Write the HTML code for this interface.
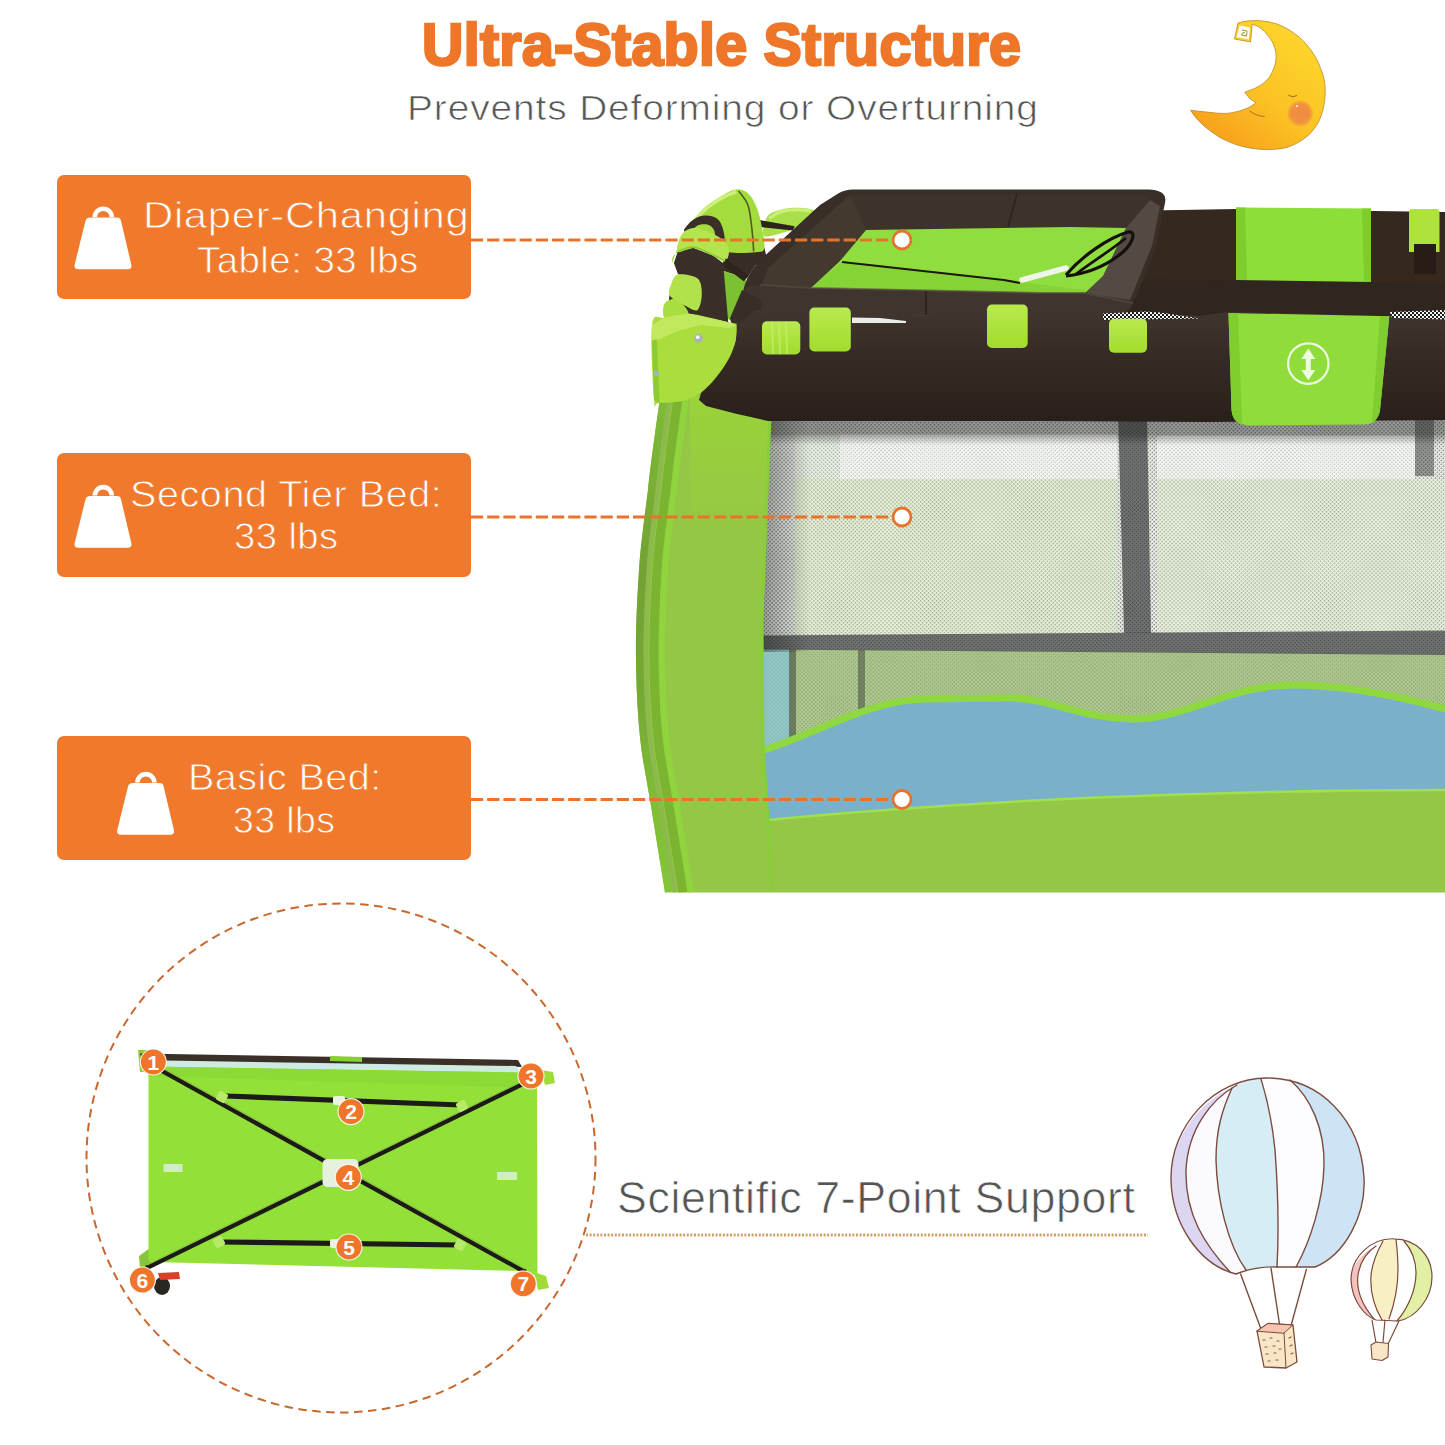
<!DOCTYPE html>
<html>
<head>
<meta charset="utf-8">
<title>Ultra-Stable Structure</title>
<style>
html,body{margin:0;padding:0;background:#fff;}
body{width:1445px;height:1445px;position:relative;overflow:hidden;font-family:"Liberation Sans",sans-serif;}
.abs{position:absolute;}
.tx{white-space:nowrap;transform-origin:0 0;}
.ttl{color:#ee7629;font-weight:bold;}
.sub{color:#555;-webkit-text-stroke:0.7px #fff;}
.box{left:57px;width:414px;height:124px;background:#f0792b;border-radius:7px;}
.bt{color:#fff;-webkit-text-stroke:0.8px #f0792b;}
svg{position:absolute;left:0;top:0;}
</style>
</head>
<body>
<!-- PRODUCT -->
<svg id="product" width="1445" height="1445" viewBox="0 0 1445 1445">
<!--PRODUCT-START-->
<defs>
<pattern id="mesh" width="2.8" height="2.8" patternUnits="userSpaceOnUse" patternTransform="rotate(45)">
<rect width="2.8" height="2.8" fill="#f1f5ee"/>
<rect width="1.4" height="1.4" fill="#343834" opacity="0.72"/>
</pattern>
<pattern id="mesh2" width="4" height="4" patternUnits="userSpaceOnUse"><rect width="4" height="4" fill="#f4f6f4"/><rect width="2" height="2" fill="#1e1e1e"/><rect x="2" y="2" width="2" height="2" fill="#1e1e1e"/></pattern>
<linearGradient id="gBody" gradientUnits="userSpaceOnUse" x1="636" y1="0" x2="770" y2="0">
<stop offset="0" stop-color="#73a233"/><stop offset="0.07" stop-color="#8dba4c"/><stop offset="0.13" stop-color="#7ab22e"/><stop offset="0.2" stop-color="#90d23c"/><stop offset="0.3" stop-color="#93c342"/><stop offset="1" stop-color="#95c645"/>
</linearGradient>
<linearGradient id="gRail" x1="0" y1="0" x2="0" y2="1">
<stop offset="0" stop-color="#41362f"/><stop offset="0.35" stop-color="#372c26"/><stop offset="0.7" stop-color="#2f2620"/><stop offset="1" stop-color="#29201b"/>
</linearGradient>
<linearGradient id="gClip" x1="0" y1="0" x2="0" y2="1">
<stop offset="0" stop-color="#b9ea50"/><stop offset="1" stop-color="#a2dc2c"/>
</linearGradient>
<linearGradient id="gMeshShade" x1="0" y1="0" x2="0" y2="1">
<stop offset="0" stop-color="#000" stop-opacity="0.6"/><stop offset="1" stop-color="#000" stop-opacity="0"/>
</linearGradient>
<linearGradient id="gEdge" gradientUnits="userSpaceOnUse" x1="0" y1="400" x2="0" y2="892"><stop offset="0" stop-color="#7dbb36"/><stop offset="0.35" stop-color="#73a233"/><stop offset="0.6" stop-color="#76a835"/><stop offset="0.85" stop-color="#80c036"/><stop offset="1" stop-color="#84c438"/></linearGradient>
<linearGradient id="gTopL" gradientUnits="userSpaceOnUse" x1="0" y1="400" x2="0" y2="540"><stop offset="0" stop-color="#9bd636" stop-opacity="0.75"/><stop offset="1" stop-color="#9bd636" stop-opacity="0"/></linearGradient>
<linearGradient id="gMeshShadeL" x1="0" y1="0" x2="1" y2="0">
<stop offset="0" stop-color="#000" stop-opacity="0.36"/><stop offset="1" stop-color="#000" stop-opacity="0"/>
</linearGradient>
<clipPath id="meshClip"><path d="M770,414 L1445,412 L1445,714 C1390,700 1330,692 1280,692 C1210,692 1170,722 1113,720 C1060,718 1040,703 1002,703 L930,703 C880,703 820,735 765,753 L763,740 L762,620 Z"/></clipPath>
<clipPath id="bodyClip"><path d="M660,398 C654,440 650,470 648,490 C644,520 641,545 639.7,560 C637,600 635.5,630 636,660 C636.5,700 639,735 643,760 L650,800 L665,892.5 L1445,892.5 L1445,410 L700,392 Z"/></clipPath>
<path id="edgeP" d="M660,398 C654,440 650,470 648,490 C644,520 641,545 639.7,560 C637,600 635.5,630 636,660 C636.5,700 639,735 643,760 L650,800 L665,892.5"/>
</defs>

<!-- main green body -->
<g clip-path="url(#bodyClip)">
<rect x="630" y="390" width="820" height="505" fill="#94c745"/>
<!-- left panel edge shading following curve -->
<use href="#edgeP" fill="none" stroke="url(#gEdge)" stroke-width="16"/>
<use href="#edgeP" x="10" fill="none" stroke="#8cba4c" stroke-width="5"/>
<use href="#edgeP" x="18" fill="none" stroke="#7ab430" stroke-width="9"/>
<use href="#edgeP" x="26" fill="none" stroke="#90d43e" stroke-width="6"/>
<rect x="690" y="395" width="85" height="150" fill="url(#gTopL)"/>
</g>

<!-- mesh window -->
<g clip-path="url(#meshClip)">
<rect x="755" y="410" width="695" height="350" fill="url(#mesh)"/>
<!-- faint light patches -->
<rect x="840" y="434" width="277" height="45" fill="#fff" opacity="0.5"/>
<rect x="795" y="434" width="45" height="45" fill="#e6f0dc" opacity="0.35"/>
<rect x="1157" y="436" width="258" height="43" fill="#fff" opacity="0.5"/>
<rect x="795" y="479" width="322" height="155" fill="#d9eebc" opacity="0.4"/>
<rect x="1157" y="479" width="291" height="154" fill="#e0f1c8" opacity="0.4"/>
<!-- greenish lower part seen through mesh -->
<path d="M755,649 L1445,654.5 L1445,764 L755,764 Z" fill="#8fb562" opacity="0.66"/>
<rect x="762" y="649.5" width="28" height="115" fill="#7fc4ea" opacity="0.6"/>
<rect x="789" y="649.5" width="7" height="115" fill="#333" opacity="0.5"/>
<rect x="858" y="650" width="7" height="84" fill="#333" opacity="0.45"/>
<!-- bars -->
<path d="M755,635.5 L1445,630.5 L1445,655 L755,649.5 Z" fill="#2c2f31" opacity="0.64"/>
<path d="M1118,410 L1147,410 L1151,633 L1124,633 Z" fill="#2c2f31" opacity="0.64"/>
<rect x="1415" y="410" width="19" height="66" fill="#2c2f31" opacity="0.45"/>
<!-- shading -->
<rect x="755" y="412" width="695" height="23" fill="#1c1c1c" opacity="0.42"/>
<rect x="755" y="435" width="695" height="10" fill="url(#gMeshShade)" opacity="0.5"/>
<rect x="760" y="412" width="50" height="240" fill="url(#gMeshShadeL)"/>
</g>

<!-- blue band -->
<path d="M765,753 C820,735 870,703 925,702 L1010,701 C1050,701 1075,720 1130,722 C1185,723 1225,689 1292,688 C1340,688 1395,698 1445,712 L1445,790 C1300,790 1180,794 1085,798 C960,804 850,812 768,820 Z" fill="#7ab0c9"/>
<!-- green piping over the blue -->
<path d="M764,750 C820,732 870,700 925,699 L1010,698 C1050,698 1075,717 1130,719 C1185,720 1225,686 1292,685 C1340,685 1395,695 1445,709" fill="none" stroke="#8fd840" stroke-width="7"/>
<path d="M768,820 C850,812 960,804 1085,798 C1180,794 1300,790 1445,790" fill="none" stroke="#9fe050" stroke-width="2.5"/>
<!-- mesh left edge piping -->
<path d="M770,416 L762,620 L763,745 L768,822 L772,892" stroke="#86cf38" stroke-width="3" fill="none"/>
<!-- ===== upper-left arms (behind) ===== -->
<path d="M763.4,234.9 C762.1,231.8 764.4,220.7 767.3,216.5 C770.2,212.3 775.6,211.1 780.8,209.7 C786.0,208.2 792.8,207.6 798.3,207.8 C803.8,208.0 812.8,208.9 814.1,210.7 C815.4,212.5 809.3,215.8 806.0,218.8 C802.7,221.8 799.6,225.8 794.4,228.5 C789.2,231.2 780.2,233.8 775.0,234.9 C769.8,236.0 764.7,238.0 763.4,234.9 Z" fill="#a9e04a"/>
<path d="M769.2,218.4 C771.1,217.3 775.9,213.1 780.8,211.7 C785.6,210.2 793.3,209.8 798.3,209.7 C803.3,209.6 808.8,210.9 810.9,211.1" fill="none" stroke="#cdf07c" stroke-width="3"/>
<path d="M755.6,219.4 L794.8,226.2 L792.8,230.5 L755.6,226.6 Z" fill="#2e241c"/>
<path d="M723.7,247.5 L764.4,247.5 L767.3,261.1 L755.6,264.9 L746.9,278.5 L722.7,270.8 Z" fill="#382d26"/>
<path d="M722.7,270.8 L746.3,278.5 L744.4,301.8 L748.3,321.5 L738.6,325.4 L720.8,314.4 Z" fill="#7cc230"/>
<path d="M672.3,263.0 C672.3,262.2 675.5,253.3 678.1,247.5 C680.7,241.7 683.6,234.5 687.8,228.1 C692.0,221.7 697.5,214.3 703.3,208.8 C709.1,203.3 717.2,198.4 722.7,195.2 C728.2,192.0 732.1,189.7 736.3,189.4 C740.5,189.1 744.7,190.7 747.9,193.3 C751.1,195.9 753.5,200.4 755.6,204.9 C757.7,209.4 759.0,213.3 760.5,220.4 C762.0,227.5 765.2,242.2 764.4,247.5 C763.6,252.8 761.6,251.5 755.6,252.3 C749.6,253.1 734.3,253.4 728.5,252.3 C722.7,251.2 729.2,245.6 720.8,245.6 C712.4,245.6 686.2,249.4 678.1,252.3 C670.0,255.2 672.3,263.8 672.3,263.0 Z" fill="#a5dc3d"/>
<path d="M678.1,249.4 C679.7,246.2 683.6,236.5 687.8,230.1 C692.0,223.7 697.5,216.5 703.3,211.1 C709.1,205.7 717.2,200.7 722.7,197.5 C728.2,194.3 734.0,192.7 736.3,191.7" fill="none" stroke="#d0f284" stroke-width="3.5" opacity="0.9"/>
<path d="M738.6,190.9 C740.1,193.2 745.7,198.7 747.9,204.9 C750.1,211.1 750.8,220.3 751.8,228.1 C752.8,235.8 753.4,247.5 753.7,251.4" fill="none" stroke="#3a3a22" stroke-width="1.6" opacity="0.8"/>
<path d="M683.9,230.1 C684.5,227.9 690.0,221.8 693.6,219.4 C697.2,217.0 701.4,215.7 705.3,215.5 C709.2,215.3 714.0,216.3 716.9,218.4 C719.8,220.5 721.4,223.9 722.7,228.1 C724.0,232.3 725.6,241.0 724.6,243.6 C723.6,246.2 718.7,245.8 716.9,243.6 C715.1,241.3 715.6,233.3 714.0,230.1 C712.4,226.9 710.0,225.3 707.2,224.6 C704.5,223.8 700.4,224.3 697.5,225.6 C694.6,226.9 692.4,231.7 690.1,232.4 C687.8,233.2 683.3,232.3 683.9,230.1 Z" fill="#3a2f28"/>
<path d="M677.7,251.8 L693.6,247.9 L713.0,255.6 L723.1,263.0 L728.5,325.0 L697.5,325.0 L697.5,278.5 L678.1,274.6 L673.9,263.0 Z" fill="#3a2f28"/>
<path d="M669.4,295.0 L685.9,305.6 L697.5,309.5 L702.3,315.3 L685.9,315.3 L668.4,305.6 Z" fill="#3a2f28"/>
<path d="M682.0,233.9 C685.3,229.9 690.7,227.1 697.5,228.1 C704.3,229.1 717.5,235.9 722.7,239.8 C727.9,243.7 728.6,247.8 728.9,251.4 C729.2,255.0 727.2,260.8 724.6,261.5 C722.0,262.2 718.2,257.9 713.0,255.6 C707.8,253.3 699.5,248.5 693.6,247.9 C687.7,247.3 679.6,254.1 677.7,251.8 C675.8,249.5 678.7,237.9 682.0,233.9 Z" fill="#b4e44e"/>
<path d="M678.1,251.0 C680.7,250.3 687.8,246.4 693.6,247.1 C699.4,247.8 707.8,252.6 713.0,254.9 C718.2,257.2 722.7,259.7 724.6,260.7" fill="none" stroke="#8cc82e" stroke-width="1.6"/>
<path d="M678.1,274.6 C682.5,273.6 693.5,275.3 697.5,278.5 C701.5,281.7 701.8,288.8 701.8,294.0 C701.8,299.2 700.1,307.9 697.5,309.9 C694.9,311.9 690.5,308.3 685.9,306.0 C681.3,303.7 672.5,299.5 670.0,295.9 C667.5,292.3 669.9,287.9 671.2,284.3 C672.6,280.8 673.7,275.6 678.1,274.6 Z" fill="#b2e24a"/>
<path d="M664.2,304.1 C665.9,300.7 672.2,297.8 676.2,299.4 C680.2,301.0 689.9,310.4 688.2,313.8 C686.5,317.2 670.1,321.2 666.1,319.6 C662.1,318.0 662.5,307.5 664.2,304.1 Z" fill="#a9de40"/>
<path d="M725.6,258.2 L747.9,275.6 L744.0,281.4 L723.7,265.9 Z" fill="#2e241c"/>

<!-- ===== back rail ===== -->
<path d="M1150,210.5 L1236,209 L1445,212 L1445,319 L1110,319 L1110,300 Z" fill="#35291f"/>
<path d="M1146,279 L1445,284 L1445,319 L1110,319 L1128,300 Z" fill="#2f2620"/>
<!-- green patch on back rail -->
<path d="M1236,207.5 L1371,208.5 L1371,282 L1236,280 Z" fill="#8cdf38"/>
<path d="M1236,207.5 L1245,207.5 L1247,280 L1236,280 Z M1362,208.5 L1371,208.5 L1371,282 L1364,282 Z" fill="#7ccd2d"/>
<!-- back clip + strap -->
<path d="M1409,212 Q1409,209 1412,209 L1436,209 Q1439.5,209 1439.5,212 L1439.5,252 L1435,252 L1435,244 L1414,244 L1414,252 L1409,252 Z" fill="#aee23c"/>
<rect x="1414" y="244" width="22" height="30" fill="#271d16"/>

<!-- ===== changing tray ===== -->
<path d="M839,193 Q845,189.5 853,189.5 L1148,189.5 Q1168,190 1165,203 L1156,246 L1146,273 L1133,303 Q1130,312 1122,313 L1040,318 L900,315 L754,312 Q743,306 743,292 Q745,278 758,262 L820,205 Z" fill="#3a2f28"/>
<!-- inner walls -->
<path d="M850,195 L1140,195 Q1152,196 1150,206 L1126,228 L1070,227 L866,230 L840,261 L830,273 L811,288 L780,296 L760,290 L768,268 Z" fill="#43392f"/>
<path d="M850,195 L1140,195 Q1152,196 1150,206 L1126,228 L1070,227 L866,230 Z" fill="#3d332b"/>
<path d="M1017,194 L1008,227" stroke="#2a211b" stroke-width="1.2"/>
<!-- right inner wall greyer -->
<path d="M1150,200 L1160,206 L1152,246 L1130,300 L1085,293 L1103,276 L1126,228 Z" fill="#524a43"/>
<!-- green floor -->
<path d="M866,230 L1070,227 L1126,228 L1103,276 L1085,293 L1040,293 L811,288 L840,261 Z" fill="#8fdd3e"/>
<path d="M842,262 L1004,280 L1085,290 L1085,293 L1040,293 L811,288 Z" fill="#86d336"/>
<!-- tray front wall -->
<path d="M744,292 Q748,284 760,285 L811,288 L1040,293 L1085,293 L1133,303 Q1130,312 1122,313 L1040,318 L900,315 L754,312 Q743,306 744,292 Z" fill="#3f352e"/>
<path d="M760,285 L811,288 L1040,293 L1085,293 L1133,303" fill="none" stroke="#574c43" stroke-width="2" opacity="0.7"/>
<path d="M926,291 L926,315" stroke="#241c17" stroke-width="1.2"/>
<!-- zip cord -->
<path d="M842,262 L1004,280 L1020,283" stroke="#1d1610" stroke-width="2" fill="none"/>
<path d="M1022,280 L1066,268" stroke="#eef5ea" stroke-width="5.5" stroke-linecap="round" fill="none"/>
<path d="M1066,275 C1082,256 1108,238 1128,232 C1138,231 1132,246 1118,256 C1102,268 1084,274 1066,276" stroke="#17110b" stroke-width="3.2" fill="none"/>
<path d="M1076,274 C1092,262 1114,248 1126,238" stroke="#17110b" stroke-width="2.8" fill="none"/>

<!-- ===== front rail ===== -->
<path d="M730,318 L742,290 L762,300 L760,330 L736,342 Z" fill="#392e27"/>
<path d="M740,323 L756,310 L852,313 L906,315 L1040,316 L1110,311 L1200,316 L1228,312 L1389,316 L1445,317 L1445,420 L1205,422 L1040,421 L808,421 L768,421 L735,413.5 L706,406 L699,400 L701,393 L720,371 L736,340 Z" fill="url(#gRail)"/>
<!-- front pocket -->
<path d="M1228.5,313 L1389.3,316.3 L1380,410 Q1378,424 1364,424.5 L1250,425.5 Q1233,425 1231.5,410 Z" fill="#8fdc3a"/>
<path d="M1228.5,313 L1238,313.2 L1242,424 Q1233,423 1231.5,410 Z" fill="#7fcd2f"/>
<path d="M1380,316.2 L1389.3,316.3 L1380,410 Q1379,418 1372,422 Z" fill="#7fcd2f"/>
<circle cx="1308.3" cy="363.6" r="20.2" fill="none" stroke="#eefbe0" stroke-width="2.2"/>
<path d="M1308.3,348.5 L1315.3,359 L1310.8,359 L1310.8,370 L1315.3,370 L1308.3,380.3 L1301.3,370 L1305.8,370 L1305.8,359 L1301.3,359 Z" fill="#eefbe0"/>

<!-- mesh gap between rails -->
<path d="M1103,313.5 L1146,311.5 L1160,312.5 L1200,318.5 L1103,320 Z" fill="url(#mesh2)"/>
<path d="M1390,312 L1445,310 L1445,319.5 L1392,318 Z" fill="url(#mesh2)"/>
<path d="M852,317.5 L880,318 L906,321 L906,323 L852,323 Z" fill="#e9ece9"/>

<!-- clips -->
<rect x="762" y="321.2" width="38.3" height="33.2" rx="5" fill="url(#gClip)"/>
<path d="M772,322 L773,354 M779,322 L780,354 M786,322 L787,354" stroke="#c7f070" stroke-width="2" opacity="0.7"/>
<rect x="809.4" y="307.5" width="41.4" height="44" rx="5" fill="url(#gClip)"/>
<rect x="987" y="304.6" width="40.7" height="43.4" rx="5" fill="url(#gClip)"/>
<rect x="1109" y="318.7" width="38" height="34" rx="5" fill="url(#gClip)"/>

<!-- ===== corner piece ===== -->
<path d="M652.0,325.0 C653.8,311.2 658.6,319.5 664.6,317.6 C670.6,315.7 676.5,312.5 687.8,313.4 C699.1,314.3 724.3,321.1 732.4,323.1 C740.5,325.1 736.2,321.8 736.6,325.4 C737.0,328.9 736.7,337.7 734.7,344.4 C732.7,351.1 729.5,358.3 724.6,365.7 C719.7,373.1 712.1,383.1 705.3,388.9 C698.5,394.7 691.6,398.3 683.9,400.6 C676.1,402.9 663.8,402.9 658.8,402.9 C653.8,402.9 655.2,413.6 654.1,400.6 C653.0,387.6 650.2,338.8 652.0,325.0 Z" fill="#aade3c"/>
<path d="M652.0,325.0 L664.6,317.6 L687.8,313.4 L732.4,323.1 L736.6,325.4 L728.5,327.9 L701.4,325.0 L678.1,330.8 L656.8,340.5 L652.0,344.4 Z" fill="#c2e95e"/>
<path d="M652.0,340.5 L656.8,339.0 L659.7,402.1 L658.8,402.9 L654.1,400.6 Z" fill="#8fcb30"/>
<circle cx="698.5" cy="338.2" r="4.4" fill="#a9b2b6"/><circle cx="697.7" cy="337.2" r="1.9" fill="#f4f6f7"/>
<circle cx="656.4" cy="373.4" r="2.7" fill="#a9b2b6"/>
<!--PRODUCT-END-->
<!--DIAGRAM-START-->
<!-- ===== 7-point diagram ===== -->
<g id="diagram">
<!-- feet -->
<path d="M541,1070 L553,1072 L555,1083 L545,1085 Z" fill="#9fdc3a"/>
<path d="M534,1272 L546,1276 L549,1288 L538,1290 Z" fill="#9fdc3a"/>
<path d="M138,1050 L150,1050 L152,1072 L140,1072 Z" fill="#8ccc34"/>
<path d="M139,1256 L150,1248 L152,1268 L140,1270 Z" fill="#86c63a"/>
<!-- wheel + red near 6 -->
<ellipse cx="162" cy="1286" rx="8" ry="9" fill="#2a2622"/>
<path d="M158,1273 L179,1272 L180,1279 L160,1280 Z" fill="#d9402a"/>
<path d="M171,1058 L179,1058 L179,1065 L172,1065 Z" fill="#d9402a"/>
<!-- top dark bar + light strip -->
<path d="M140,1053.5 L518,1060 L522,1067 L142,1061 Z" fill="#3a3028"/>
<path d="M330,1056 L362,1057 L362,1062 L330,1061 Z" fill="#86d030"/>
<path d="M165,1060.5 L516,1066 L522,1073.5 L150,1067.5 Z" fill="#cdebe0"/>
<!-- green sheet -->
<path d="M148.5,1066.5 L520,1072.5 L537,1078 L537.5,1276 L520,1271 L152,1262 Q148,1262 148.5,1258 Z" fill="#93e038"/>
<path d="M148.5,1066.5 L520,1072.5 L537,1078 L537,1088 L148.5,1076 Z" fill="#8ad836" opacity="0.8"/>
<!-- bars -->
<g stroke="#1d1b17" stroke-width="5.2" stroke-linecap="round" fill="none">
<path d="M163,1071 L524,1271"/>
<path d="M524,1083 L148,1267"/>
<path d="M226,1096 L461,1105"/>
<path d="M221,1242 L460,1245"/>
</g>
<g stroke="#9fe04a" stroke-width="1.2" fill="none" opacity="0.9">
<path d="M164,1069 L525,1269"/>
<path d="M523,1081 L147,1265"/>
</g>
<!-- joints -->
<g fill="#b7ea6a">
<rect x="217" y="1092" width="10" height="10" rx="2" transform="rotate(28 222 1097)"/>
<rect x="457" y="1101" width="10" height="10" rx="2" transform="rotate(-28 462 1106)"/>
<rect x="214" y="1237" width="10" height="10" rx="2" transform="rotate(-28 219 1242)"/>
<rect x="455" y="1240" width="10" height="10" rx="2" transform="rotate(28 460 1245)"/>
</g>
<!-- hub -->
<rect x="322.5" y="1159" width="36" height="28" rx="5" fill="#e4f1dc"/>
<rect x="333" y="1096" width="12" height="9" rx="2" fill="#e8f4e0"/>
<rect x="330" y="1239" width="12" height="9" rx="2" fill="#e8f4e0"/>
<!-- labels -->
<rect x="163.5" y="1164" width="19" height="8" fill="#cfeec0"/>
<rect x="497" y="1172" width="20" height="8" fill="#cfeec0"/>
<!-- numbered circles -->
<g font-family="Liberation Sans, sans-serif" font-weight="bold" font-size="21" fill="#fff" text-anchor="middle" stroke-linejoin="round">
<g fill="#ee7529" stroke="#fff" stroke-width="1.2" stroke-opacity="0.85">
<circle cx="153.3" cy="1062" r="13"/>
<circle cx="351" cy="1111.6" r="13"/>
<circle cx="531" cy="1076" r="13"/>
<circle cx="348.3" cy="1177.3" r="13"/>
<circle cx="349" cy="1247" r="13"/>
<circle cx="142.4" cy="1280" r="13"/>
<circle cx="523.3" cy="1283.8" r="13"/>
</g>
<text x="153.3" y="1069.5">1</text>
<text x="351" y="1119.1">2</text>
<text x="531" y="1083.5">3</text>
<text x="348.3" y="1184.8">4</text>
<text x="349" y="1254.5">5</text>
<text x="142.4" y="1287.5">6</text>
<text x="523.3" y="1291.3">7</text>
</g>
</g>
<!--DIAGRAM-END-->
<!--DECO-START-->
<!-- ===== moon ===== -->
<defs>
<linearGradient id="gMoon" gradientUnits="userSpaceOnUse" x1="1300" y1="30" x2="1215" y2="135">
<stop offset="0" stop-color="#fdd62c"/><stop offset="0.55" stop-color="#fbc224"/><stop offset="1" stop-color="#f8a21c"/>
</linearGradient>
<radialGradient id="gCheek" cx="0.5" cy="0.5" r="0.5">
<stop offset="0" stop-color="#f08a44"/><stop offset="0.75" stop-color="#f29040"/><stop offset="1" stop-color="#f6a534" stop-opacity="0.6"/>
</radialGradient>
</defs>
<g id="moon">
<path d="M1238,23 C1245,21 1251,20.5 1257,20.6 C1264,20.8 1270,22 1276,23.7 C1283,26 1289,29.5 1294.6,33.6 C1301,38 1306,43.5 1310.8,49.8 C1315,56 1318.5,62 1320.7,68.5 C1323,74.5 1325,81 1325.1,87.2 C1325.5,93.5 1325,100 1323.8,105.9 C1322.5,112.5 1320.5,119 1317,124.6 C1313.5,130 1309.5,135 1304.5,138.3 C1299.5,142 1294,145 1288.3,147 C1282,148.8 1276,149.5 1269.6,149.5 C1263,149.6 1257,149.2 1251,148.2 C1244.5,147 1238,145.5 1232.3,143.2 C1225.5,140.5 1219,137.2 1213.6,133.3 C1208,129.5 1203,125.5 1198.7,120.8 C1195.5,117.5 1192.8,114 1190.6,110.2 C1196,111 1201.5,111.6 1207.4,112.1 C1213.5,112.8 1219.5,113.6 1226,113.4 C1231,113.2 1235.5,112 1239.8,110.9 C1243.5,109.9 1246.8,108.5 1249.7,107.1 L1256,102.8 L1249.7,98.4 L1244.7,92.2 L1254.7,88.4 C1258.5,86.6 1262,84.6 1264.7,82.2 C1268,79.2 1270.5,76 1272.1,72.2 C1274.2,68.2 1275.6,64 1275.9,59.8 C1276.4,55.5 1276,51.2 1274.6,47.3 C1273.2,43.2 1271.2,39.4 1268.4,36.1 C1265.8,32.8 1263,29.8 1259.7,27.4 C1257.5,26 1255,25 1252.2,24.3 L1250.5,42 L1234.5,39 Z" fill="url(#gMoon)" stroke="#b98a2a" stroke-width="0.8"/>
<path d="M1239.5,25.5 L1250,27.5 L1248.8,39.5 L1236.6,37.2 Z" fill="#fff" opacity="0.92"/>
<path d="M1242,30 L1247,31 L1246.5,36 L1241.5,35 L1243,32.5 L1245,33" fill="none" stroke="#8d8a2a" stroke-width="0.9"/>
<circle cx="1300.2" cy="113.4" r="12.8" fill="url(#gCheek)"/>
<circle cx="1297" cy="106" r="1" fill="#fff"/>
<path d="M1288.5,95.2 Q1292.5,98.2 1297,95.5" fill="none" stroke="#8a5a2a" stroke-width="0.9"/>
<path d="M1249.7,110.9 Q1256,116 1264.7,116.5" fill="none" stroke="#a06a2a" stroke-width="0.9"/>
</g>

<!-- ===== balloons ===== -->
<g id="balloons" stroke-linejoin="round" stroke-linecap="round">
<!-- big balloon gores -->
<g stroke="none">
<path d="M1237,1085 C1190,1105 1166,1150 1172,1195 C1178,1235 1205,1262 1230,1272 C1205,1245 1185,1215 1186,1170 C1188,1130 1210,1100 1237,1085 Z" fill="#ddd6f3"/>
<path d="M1237,1085 C1210,1100 1188,1130 1186,1170 C1185,1215 1205,1245 1230,1272 Q1238,1274 1244,1272 C1230,1250 1216,1200 1216,1160 C1217,1125 1225,1100 1230,1088 Z" fill="#fbfbff"/>
<path d="M1232,1088 C1222,1110 1216,1130 1216,1160 C1217,1200 1228,1245 1246,1270 Q1260,1266 1277,1267 C1280,1230 1278,1180 1274,1140 C1270,1110 1264,1090 1261,1079 Q1245,1080 1232,1088 Z" fill="#d6edf5"/>
<path d="M1261,1079 C1266,1095 1272,1120 1275,1150 C1278,1190 1279,1230 1277,1267 L1296,1267 C1312,1240 1324,1200 1324,1165 C1324,1125 1308,1095 1290,1080 Q1275,1076 1261,1079 Z" fill="#fdfdff"/>
<path d="M1290,1080 C1310,1097 1325,1128 1324,1166 C1323,1202 1310,1242 1296,1267 L1315,1267 C1345,1255 1366,1215 1364,1178 C1362,1130 1330,1092 1290,1080 Z" fill="#cde3f6"/>
</g>
<g fill="none" stroke="#7b4b3b" stroke-width="1.4">
<path d="M1267,1078 C1215,1078 1170,1125 1171,1180 C1172,1225 1200,1265 1236,1274 Q1256,1266 1277,1267 L1315,1267 C1345,1255 1366,1215 1364,1178 C1361,1120 1320,1078 1267,1078 Z"/>
<path d="M1237,1085 C1210,1100 1188,1130 1186,1170 C1185,1215 1205,1245 1230,1272"/>
<path d="M1232,1088 C1222,1110 1216,1130 1216,1160 C1217,1200 1228,1245 1246,1270"/>
<path d="M1261,1079 C1266,1095 1272,1120 1275,1150 C1278,1190 1279,1230 1277,1267"/>
<path d="M1290,1080 C1310,1097 1325,1128 1324,1166 C1323,1202 1310,1242 1296,1267"/>
<path d="M1240.6,1274 L1260.6,1328 M1271,1268 L1279.4,1323.5 M1306.4,1269.4 L1291,1325.8"/>
</g>
<path d="M1257,1331 L1268,1323.5 L1293,1325 L1297,1362 L1286,1368 L1264,1367 Z" fill="#f8e6c6" stroke="#7b4b3b" stroke-width="1.3"/>
<path d="M1257,1331 L1268,1323.5 L1293,1325 L1284,1333 Z" fill="#f6c4b0" stroke="#7b4b3b" stroke-width="1"/>
<path d="M1284,1333 L1286,1368" stroke="#7b4b3b" stroke-width="1" fill="none"/>
<g stroke="#8a5a3a" stroke-width="1.2">
<path d="M1263,1340 l2,0 M1270,1338 l2,0 M1277,1341 l2,0 M1265,1347 l2,0 M1273,1346 l2,0 M1279,1349 l2,0 M1266,1354 l2,0 M1274,1353 l2,0 M1268,1361 l2,0 M1276,1360 l2,0 M1289,1338 l2,-1 M1290,1346 l2,-1 M1291,1354 l2,-1"/>
</g>
<!-- small balloon -->
<g stroke="none">
<path d="M1376,1246 C1358,1255 1350,1270 1351,1284 C1353,1302 1365,1315 1374,1319 C1362,1305 1356,1290 1358,1275 C1360,1262 1367,1252 1376,1246 Z" fill="#f6c2c0"/>
<path d="M1376,1246 C1367,1252 1360,1262 1358,1275 C1356,1290 1362,1305 1374,1319 L1381,1320 C1374,1305 1370,1290 1371,1275 C1372,1260 1378,1248 1383,1241 Z" fill="#fefefe"/>
<path d="M1383,1241 C1378,1250 1372,1262 1371,1276 C1370,1292 1375,1308 1382,1320 L1389,1319 C1394,1305 1398,1288 1398,1270 C1398,1258 1397,1247 1396,1239 Z" fill="#f8efc4"/>
<path d="M1396,1239 C1397,1248 1398,1258 1398,1270 C1398,1288 1394,1305 1389,1319 L1397,1321 C1408,1308 1416,1290 1416,1272 C1415,1258 1410,1248 1404,1241 Z" fill="#fefefe"/>
<path d="M1404,1241 C1411,1249 1416,1260 1416,1273 C1416,1290 1408,1308 1397,1321 C1415,1318 1432,1298 1432,1277 C1432,1258 1420,1244 1404,1241 Z" fill="#e2f0a6"/>
</g>
<g fill="none" stroke="#7b4b3b" stroke-width="1.2">
<path d="M1394,1238.8 C1370,1238 1351,1258 1351,1280 C1352,1300 1364,1316 1376,1320 L1398,1321 C1416,1318 1432,1298 1432,1277 C1432,1255 1416,1239 1394,1238.8 Z"/>
<path d="M1376,1246 C1367,1252 1360,1262 1358,1275 C1356,1290 1362,1305 1374,1319"/>
<path d="M1383,1241 C1378,1250 1372,1262 1371,1276 C1370,1292 1375,1308 1382,1320"/>
<path d="M1396,1239 C1397,1248 1398,1258 1398,1270 C1398,1288 1394,1305 1389,1319"/>
<path d="M1404,1241 C1411,1249 1416,1260 1416,1273 C1416,1290 1408,1308 1397,1321"/>
<path d="M1372,1320 L1376,1343 M1385,1320 L1383,1342 M1399,1321 L1388,1344"/>
</g>
<path d="M1371,1345 L1376,1342 L1388.5,1343.5 L1388,1357 L1382,1360.5 L1372,1359 Z" fill="#f8e6c6" stroke="#7b4b3b" stroke-width="1.1"/>
</g>
<!--DECO-END-->
</svg>

<!-- TITLE -->

<!-- ORANGE BOXES -->
<div class="abs box" style="top:175px;"></div>
<div class="abs box" style="top:453px;"></div>
<div class="abs box" style="top:736px;"></div>



<!-- TEXT -->
<div class="abs tx ttl" id="t1" style="left:422px;top:15.6px;font-size:59px;line-height:59px;letter-spacing:0.3px;transform:scaleX(0.972);-webkit-text-stroke:2.6px #ee7629;">Ultra-Stable Structure</div>
<div class="abs tx sub" id="t2" style="left:406.5px;top:90.0px;font-size:35.0px;line-height:35.0px;letter-spacing:0.8px;transform:scaleX(1.1102);">Prevents Deforming or Overturning</div>
<div class="abs tx bt" id="b1a" style="left:142.8px;top:198.0px;font-size:36.0px;line-height:36.0px;letter-spacing:0.6px;transform:scaleX(1.1611);">Diaper-Changing</div>
<div class="abs tx bt" id="b1b" style="left:196.5px;top:242.5px;font-size:36.0px;line-height:36.0px;letter-spacing:0.4px;transform:scaleX(1.0691);">Table: 33 lbs</div>
<div class="abs tx bt" id="b2a" style="left:130.4px;top:477.0px;font-size:36.0px;line-height:36.0px;letter-spacing:0.5px;transform:scaleX(1.0994);">Second Tier Bed:</div>
<div class="abs tx bt" id="b2b" style="left:234.0px;top:519.3px;font-size:36.0px;line-height:36.0px;letter-spacing:0.4px;transform:scaleX(1.0616);">33 lbs</div>
<div class="abs tx bt" id="b3a" style="left:188.1px;top:759.5px;font-size:36.0px;line-height:36.0px;letter-spacing:0.4px;transform:scaleX(1.1002);">Basic Bed:</div>
<div class="abs tx bt" id="b3b" style="left:233.0px;top:802.5px;font-size:36.0px;line-height:36.0px;letter-spacing:0.4px;transform:scaleX(1.0389);">33 lbs</div>
<div class="abs tx sub" id="t3" style="left:617.1px;top:1176.6px;font-size:43.5px;line-height:43.5px;letter-spacing:0.6px;transform:scaleX(1.0287);">Scientific 7-Point Support</div>

<!-- OVERLAY: lines, icons, circle -->
<svg id="overlay" width="1445" height="1445" viewBox="0 0 1445 1445">

<defs><g id="wicon"><path d="M90.5,217.5 H117 Q120.3,217.5 121,220.8 L131.3,264.5 Q132.3,269.3 127.5,269.3 H78.5 Q73.7,269.3 74.7,264.5 L85.5,220.8 Q86.5,217.5 90.5,217.5 Z" fill="#fff"/><path d="M94.8,217.2 A8.5,8.5 0 1 1 111.8,217.2" fill="none" stroke="#fff" stroke-width="4.6"/></g></defs>
<use href="#wicon" x="0" y="0"/>
<use href="#wicon" x="0" y="278.4"/>
<use href="#wicon" x="42.6" y="565.4"/>
<g stroke="#e8742b" stroke-width="3.2" stroke-dasharray="12.2 4" fill="none">
<line x1="471" y1="240" x2="893" y2="240"/>
<line x1="471" y1="517" x2="893" y2="517"/>
<line x1="471" y1="799.5" x2="893" y2="799.5"/>
</g>
<g stroke="#e6732c" stroke-width="2.8" fill="#fff">
<circle cx="902" cy="240" r="9"/>
<circle cx="902" cy="517" r="9"/>
<circle cx="902" cy="799.5" r="9"/>
</g>
<circle cx="341" cy="1158" r="254.5" fill="none" stroke="#c8682e" stroke-width="2" stroke-dasharray="8.5 5.5"/>
<line x1="586" y1="1235" x2="1148" y2="1235" stroke="#d2a06a" stroke-width="3" stroke-dasharray="2 1.6"/>
<!--OVERLAY-CONTENT-->
</svg>
</body>
</html>
